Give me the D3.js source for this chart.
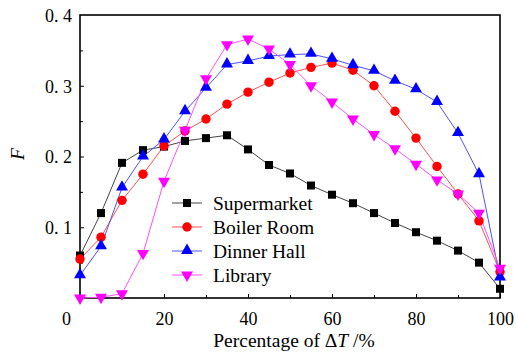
<!DOCTYPE html>
<meta charset="utf-8">
<style>
body { margin: 0; background: #fff; }
text { font-family: "Liberation Serif", "Times New Roman", serif; fill: #000; }
.series path { fill: none; stroke-width: 1; }
</style>
<svg width="516" height="352"></svg>
<script src="https://d3js.org/d3.v7.min.js"></script>
<script>

// percentage of delta T (x values)
var xs = [0, 5, 10, 15, 20, 25, 30, 35, 40, 45, 50, 55, 60, 65, 70, 75, 80, 85, 90, 95, 100];

var supermarket = [0.060, 0.120, 0.191, 0.209, 0.214, 0.222, 0.226, 0.230, 0.210, 0.188, 0.176,
                   0.159, 0.146, 0.134, 0.120, 0.106, 0.093, 0.081, 0.067, 0.050, 0.013];
var boiler_room = [0.055, 0.086, 0.138, 0.175, 0.215, 0.236, 0.253, 0.274, 0.291, 0.305, 0.318,
                   0.326, 0.332, 0.322, 0.300, 0.264, 0.226, 0.186, 0.147, 0.109, 0.037];
var dinner_hall = [0.032, 0.073, 0.156, 0.200, 0.224, 0.264, 0.297, 0.330, 0.335, 0.342, 0.344,
                   0.345, 0.338, 0.329, 0.321, 0.307, 0.295, 0.277, 0.233, 0.175, 0.029];
var library     = [0.000, 0.001, 0.006, 0.063, 0.165, 0.237, 0.310, 0.358, 0.366, 0.352, 0.330,
                   0.300, 0.277, 0.253, 0.231, 0.211, 0.189, 0.167, 0.147, 0.120, 0.042];

var series_names = ["Supermarket", "Boiler Room", "Dinner Hall", "Library"];
var series_colours = ["#000000", "#ff0000", "#0000ff", "#ff00ff"];
var line_colours = ["#444444", "#ff5050", "#5050ff", "#ff50ff"];
var series_shapes = ["square", "circle", "up", "down"];

var x_ticks = [0, 20, 40, 60, 80, 100];
var y_ticks = [0.1, 0.2, 0.3, 0.4];
var y_tick_labels = ["0. 1", "0. 2", "0. 3", "0. 4"];

var svg = d3.select("svg");

var plot_left = 80, plot_right = 500, plot_top = 15, plot_bottom = 298;

var x = d3.scaleLinear().domain([0, 100]).range([plot_left, plot_right]);
var y = d3.scaleLinear().domain([0, 0.4]).range([plot_bottom, plot_top]);

// minor ticks (inward)
var x_minor = d3.range(10, 100, 20);
var y_minor = [0.05, 0.15, 0.25, 0.35];

svg.append("g")
   .attr("transform", "translate(0," + plot_bottom + ")")
   .call(d3.axisBottom(x).tickValues(x_minor).tickSize(-3).tickFormat(""))
   .call(function(g) { g.select(".domain").remove(); });

svg.append("g")
   .attr("transform", "translate(" + plot_left + ",0)")
   .call(d3.axisLeft(y).tickValues(y_minor).tickSize(-3).tickFormat(""))
   .call(function(g) { g.select(".domain").remove(); });

// major ticks
var xAxis = svg.append("g")
   .attr("transform", "translate(0," + plot_bottom + ")")
   .call(d3.axisBottom(x).tickValues(x_ticks).tickSize(-4).tickPadding(14).tickFormat(d3.format("d")));
xAxis.select(".domain").remove();
xAxis.selectAll("text")
   .style("font-size", "18px")
   .style("font-family", "'Liberation Serif', serif");
// the 0 label sits left of the corner
xAxis.selectAll(".tick").filter(function(d) { return d === 0; }).select("text").attr("x", -14);
xAxis.selectAll(".tick").filter(function(d) { return d === 0; }).select("line").remove();

var yAxis = svg.append("g")
   .attr("transform", "translate(" + plot_left + ",0)")
   .call(d3.axisLeft(y).tickValues(y_ticks).tickSize(-4).tickPadding(8)
          .tickFormat(function(d, i) { return y_tick_labels[i]; }));
yAxis.select(".domain").remove();
yAxis.selectAll("text")
   .style("font-size", "18px")
   .style("font-family", "'Liberation Serif', serif")
   .attr("dy", "0.36em");
yAxis.selectAll(".tick").filter(function(d) { return d === 0.4; }).select("line").remove();

// frame
svg.append("rect")
   .attr("x", plot_left)
   .attr("y", plot_top)
   .attr("width", plot_right - plot_left)
   .attr("height", plot_bottom - plot_top)
   .style("fill", "none")
   .style("stroke", "#000")
   .style("stroke-width", 1.6);

// markers
var sym = {
  square: d3.symbol().type(d3.symbolSquare).size(64),
  circle: d3.symbol().type(d3.symbolCircle).size(70),
  up: d3.symbol().type(d3.symbolTriangle).size(62)
};
function markerPath(shape) {
  if (shape === "down") return sym.up();
  return sym[shape]();
}
function markerTransform(shape, px, py) {
  if (shape === "down") return "translate(" + px + "," + py + ") rotate(180)";
  if (shape === "up") return "translate(" + px + "," + (py - 0.5) + ")";
  return "translate(" + px + "," + py + ")";
}

var all_series = [supermarket, boiler_room, dinner_hall, library];

var line = d3.line()
   .x(function(d, i) { return x(xs[i]); })
   .y(function(d) { return y(d); });

var plot = svg.append("g").attr("class", "series");

all_series.forEach(function(vals, s) {
  plot.append("path")
     .attr("d", line(vals))
     .style("stroke", line_colours[s]);
});

all_series.forEach(function(vals, s) {
  plot.selectAll(".m" + s)
     .data(vals)
     .enter().append("path")
     .attr("class", "m" + s)
     .attr("d", markerPath(series_shapes[s]))
     .attr("transform", function(d, i) { return markerTransform(series_shapes[s], x(xs[i]), y(d)); })
     .style("fill", series_colours[s])
     .style("stroke", "none");
});

// legend
var legend_x = 172, legend_y = 203, legend_step = 24;
series_names.forEach(function(name, s) {
  var ly = legend_y + s * legend_step;
  svg.append("line")
     .attr("x1", legend_x).attr("x2", legend_x + 30)
     .attr("y1", ly).attr("y2", ly)
     .style("stroke", line_colours[s])
     .style("stroke-width", 1);
  svg.append("path")
     .attr("d", markerPath(series_shapes[s]))
     .attr("transform", markerTransform(series_shapes[s], legend_x + 15, ly))
     .style("fill", series_colours[s]);
  svg.append("text")
     .attr("x", legend_x + 41)
     .attr("y", ly + 6.5)
     .style("font-size", "19.5px")
     .text(name);
});

// axis titles
var xt = svg.append("text")
   .attr("x", 294)
   .attr("y", 347)
   .attr("text-anchor", "middle")
   .style("font-size", "19.5px");
xt.append("tspan").text("Percentage of \u0394");
xt.append("tspan").style("font-style", "italic").text("T");
xt.append("tspan").text(" /%");

svg.append("text")
   .attr("transform", "translate(24,154) rotate(-90)")
   .attr("text-anchor", "middle")
   .style("font-size", "19.5px")
   .style("font-style", "italic")
   .text("F");

</script>
